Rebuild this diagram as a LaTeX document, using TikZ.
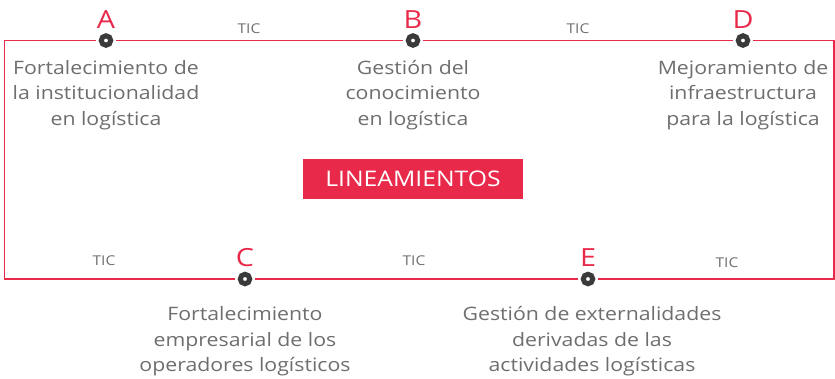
\documentclass[tikz,border=0pt]{standalone}
\usepackage{fontspec}
\setmainfont[FakeStretch=1.15]{Open Sans}
\usetikzlibrary{positioning}
\definecolor{rojo}{HTML}{E8294A}
\definecolor{gris}{HTML}{6E6E6E}
\definecolor{oscuro}{HTML}{3A3A3A}

\begin{document}
\begin{tikzpicture}[
    x=1pt, y=-1pt, % Un punto por pixel, eje y hacia abajo
    linea/.style={rojo, line width=1.2pt}, % Estilo para el marco rojo
    punto/.style={circle, draw=oscuro, line width=5pt, fill=white,
        minimum size=9.5pt, inner sep=0pt, outer sep=5.5pt}, % Hitos sobre el marco
    letra/.style={rojo, inner sep=3pt, font=\fontsize{25}{25}\selectfont}, % Letras A..E
    texto/.style={gris, align=center, font=\fontsize{18.5}{25.5}\selectfont}, % Textos de cada hito
    tic/.style={gris, font=\fontsize{13.5}{13.5}\selectfont}, % Etiquetas TIC
    caja/.style={fill=rojo, text=white, minimum width=220pt, minimum height=40pt,
        font=\fontsize{21.5}{21.5}\selectfont} % Caja central
]
    \useasboundingbox (0,0) rectangle (835,378);

    % --- Esquinas del marco ---
    \coordinate (esqNO) at (4.5, 40.5);
    \coordinate (esqNE) at (834, 40.5);
    \coordinate (esqSE) at (834, 279);
    \coordinate (esqSO) at (4.5, 279);

    % --- Hitos ---
    \node[punto] (a) at (106, 40.5) {};
    \node[punto] (b) at (413, 40.5) {};
    \node[punto] (d) at (743, 40.5) {};
    \node[punto] (c) at (245, 279) {};
    \node[punto] (e) at (588, 279) {};

    % --- Marco rojo entre los hitos ---
    \draw[linea] (a) -- (b);
    \draw[linea] (b) -- (d);
    \draw[linea] (d) -- (esqNE) -- (esqSE) -- (e);
    \draw[linea] (e) -- (c);
    \draw[linea] (c) -- (esqSO) -- (esqNO) -- (a);

    % --- Letras ---
    \node[letra, above=-1pt of a] (letraA) {A};
    \node[letra, above=-1pt of b] (letraB) {B};
    \node[letra, above=-1pt of d] (letraD) {D};
    \node[letra, above=-1pt of c] (letraC) {C};
    \node[letra, above=-1pt of e] (letraE) {E};

    % --- Textos de los hitos ---
    \node[texto, below=6pt of a] (textoA) {Fortalecimiento de\\la institucionalidad\\en logística};
    \node[texto, below=6pt of b] (textoB) {Gestión del\\conocimiento\\en logística};
    \node[texto, below=6pt of d] (textoD) {Mejoramiento de\\infraestructura\\para la logística};
    \node[texto, below=14pt of c] (textoC) {Fortalecimiento\\empresarial de los\\operadores logísticos};
    \node[texto, below=14pt of e, xshift=4pt] (textoE) {Gestión de externalidades\\derivadas de las\\actividades logísticas};

    % --- Etiquetas TIC ---
    \node[tic] (tic1) at (249, 29) {TIC};
    \node[tic] (tic2) at (578, 29) {TIC};
    \node[tic] (tic3) at (104, 261) {TIC};
    \node[tic] (tic4) at (414, 261) {TIC};
    \node[tic] (tic5) at (727, 263) {TIC};

    % --- Caja central ---
    \node[caja] (lineamientos) at (413, 179) {LINEAMIENTOS};

\end{tikzpicture}
\end{document}
